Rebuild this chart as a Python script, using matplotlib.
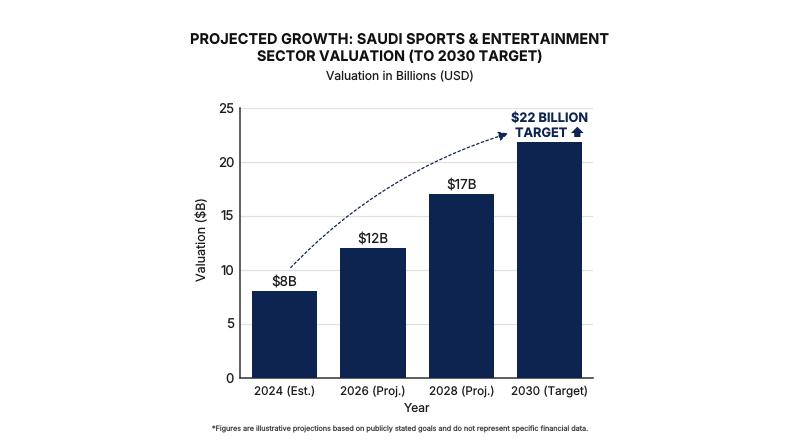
import matplotlib
matplotlib.use("Agg")
import matplotlib.pyplot as plt

plt.rcParams['font.family'] = ['Inter', 'DejaVu Sans']
plt.rcParams['text.hinting'] = 'no_hinting'
plt.rcParams['text.hinting_factor'] = 1

categories = ["2024 (Est.)", "2026 (Proj.)", "2028 (Proj.)", "2030 (Target)"]
values = [8, 12, 17, 21.8]
bar_labels = ["$8B", "$12B", "$17B"]
yticks = [0, 5, 10, 15, 20, 25]
NAVY = "#0d2350"
INK = "#1c1c1c"
W, H = 800, 447

fig = plt.figure(figsize=(8, 4.47), dpi=100)
ax = fig.add_axes([240/W, 1-378/H, (593-240)/W, (378-107.5)/H])
x = list(range(len(categories)))
ax.bar(x, values, width=0.74, color=NAVY, zorder=3)
ax.set_xlim(-0.504, 3.49)
ax.set_ylim(0, 25)
ax.set_yticks(yticks)
ax.set_xticks(x)
ax.set_xticklabels(categories)
ax.tick_params(axis='both', length=0, labelsize=8.4, labelcolor=INK)
ax.tick_params(axis='x', pad=5.5)
ax.tick_params(axis='y', pad=4.3, labelsize=9.5)
ax.grid(axis='y', color="#e0e0e0", lw=0.9, zorder=0)
ax.set_axisbelow(True)
for s in ('top', 'right'):
    ax.spines[s].set_visible(False)
for s in ('left', 'bottom'):
    ax.spines[s].set_color("#333333")
    ax.spines[s].set_linewidth(1.1)

for i, lab in enumerate(bar_labels):
    ax.text(i, values[i] + 0.25, lab.replace("$", r"\$"), ha='center', va='bottom', fontsize=9.7, color=INK)

ax.text(3, 22.0, "\\$22 BILLION\nTARGET \u2b06", ha='center', va='bottom', fontsize=9.2,
        fontweight='bold', color=NAVY, linespacing=1.22, zorder=5)

ax.annotate("", xy=(2.53, 22.6), xytext=(0.07, 10.2),
            arrowprops=dict(arrowstyle="-|>", linestyle=(0, (2, 2)), lw=0.9, color=NAVY,
                            connectionstyle="arc3,rad=-0.13", mutation_scale=14,
                            shrinkA=0, shrinkB=0), zorder=6)

fig.text(400/W, 1-40/H, "PROJECTED GROWTH: SAUDI SPORTS & ENTERTAINMENT",
         ha='center', va='center', fontsize=10.5, fontweight='bold', color="#111111")
fig.text(400/W, 1-57.5/H, "SECTOR VALUATION (TO 2030 TARGET)",
         ha='center', va='center', fontsize=10.3, fontweight='bold', color="#111111")
fig.text(400/W, 1-77.5/H, "Valuation in Billions (USD)", ha='center', va='center', fontsize=8.7, color=INK)
fig.text(417/W, 1-408.5/H, "Year", ha='center', va='center', fontsize=8.7, color=INK)
fig.text(203/W, 1-239/H, "Valuation (\\$B)", ha='center', va='center', rotation=90, fontsize=9, color=INK)
fig.text(400/W, 1-429/H, "*Figures are illustrative projections based on publicly stated goals and do not represent specific financial data.",
         ha='center', va='center', fontsize=5.2, color="#444444")

fig.savefig("out.png", dpi=100)
